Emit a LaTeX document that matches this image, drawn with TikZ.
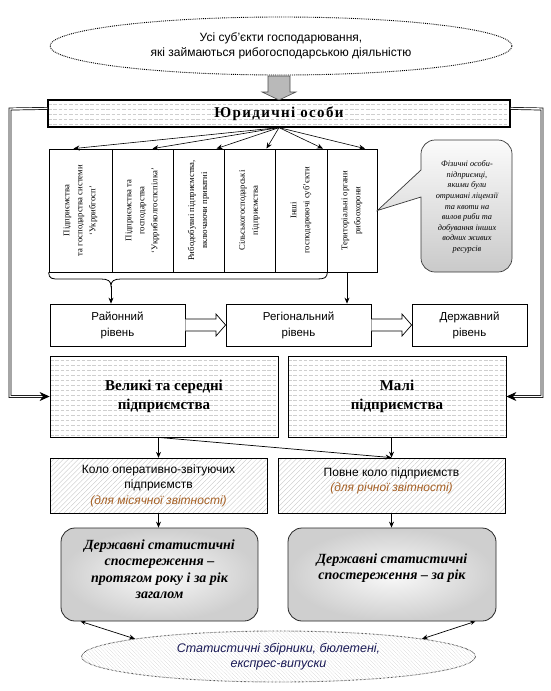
\documentclass[tikz,border=0pt]{standalone}
\usepackage{fontspec}
\setmainfont{Liberation Serif}
\setsansfont{Liberation Sans}
\newfontfamily\spacedserif[LetterSpace=9]{Liberation Serif}
\usetikzlibrary{arrows.meta,patterns.meta,shapes.geometric}
\definecolor{brn}{RGB}{165,95,35}
\definecolor{navy}{RGB}{25,25,85}
\tikzset{
  ell/.style={ellipse, draw=black, densely dotted, line width=0.9pt, align=center, inner sep=0pt},
  hlines/.style={path picture={\foreach \k in {1,...,40}{\draw[gray!38,line width=0.4pt,dash pattern=on 3.5pt off 1.8pt] ([yshift=-\k*5pt+1pt]path picture bounding box.north west) -- ([yshift=-\k*5pt+1pt]path picture bounding box.north east);}}},
  col/.style={draw, line width=0.8pt, minimum height=123pt, inner sep=0pt},
  coltext/.style={rotate=90, align=center, font=\fontsize{8.7}{13}\selectfont, inner sep=0pt},
  lvl/.style={draw, line width=0.8pt, minimum height=42pt, align=center, font=\sffamily\fontsize{11.5}{16}\selectfont},
  bigbox/.style={draw, line width=0.8pt, hlines, minimum height=81pt, align=center, font=\bfseries\fontsize{15}{19}\selectfont},
  hatchbox/.style={draw, line width=0.8pt, pattern={Lines[angle=45,distance=3.5pt,line width=0.35pt]}, pattern color=gray!45, minimum height=55pt, align=center, font=\sffamily\fontsize{12}{15.5}\selectfont},
  marble/.style={draw=gray!30!black, line width=0.8pt, rounded corners=14pt, inner color=gray!4, outer color=gray!38, minimum height=93pt},
  mtext/.style={align=center, font=\bfseries\itshape\fontsize{14}{16.5}\selectfont},
  fan/.style={-{Stealth[length=6pt,width=5pt]}, line width=0.6pt},
  arr/.style={-{Stealth[length=6pt,width=5pt]}, line width=0.7pt},
  dbl/.style={double, double distance=1.4pt, line width=0.7pt, -{Stealth[length=10pt,width=9pt]}},
  hollow/.style={draw, fill=white, line width=0.7pt},
  tw/.style={{Stealth[length=5pt,width=4pt]}-{Stealth[length=6pt,width=5pt]}, line width=0.7pt}
}
\begin{document}
\begin{tikzpicture}[x=1pt,y=-1pt]
\useasboundingbox (0,0) rectangle (551,691);
\fill[white] (0,0) rectangle (551,691);

% top ellipse
\node[ell, minimum width=462pt, minimum height=58pt, font=\sffamily\fontsize{12}{15.5}\selectfont] (top) at (281,46)
  {Усі суб'єкти господарювання,\\які займаються рибогосподарською діяльністю};

% Legal entities box
\node[draw, line width=1.2pt, hlines, minimum width=462pt, minimum height=27pt, font=\spacedserif\bfseries\fontsize{15}{17}\selectfont] (yur) at (279,113.5)
  {Юридичні особи};

% gray block arrow
\path[fill=gray!55, draw=gray!60!black, line width=0.6pt]
  (268,76) -- (290,76) -- (290,92) -- (296,92) -- (279,100) -- (262,92) -- (268,92) -- cycle;

% columns
\node[col, minimum width=63pt] (c1) at (80.5,210.5) {};
\node[col, minimum width=61pt] (c2) at (142.5,210.5) {};
\node[col, minimum width=51pt] (c3) at (198.5,210.5) {};
\node[col, minimum width=51pt] (c4) at (249.5,210.5) {};
\node[col, minimum width=52pt] (c5) at (301,210.5) {};
\node[col, minimum width=50pt] (c6) at (352,210.5) {};
\node[coltext] (t1) at (c1.center) {Підприємства\\та господарства системи\\‘Укррибгосп’};
\node[coltext] (t2) at (c2.center) {Підприємства та\\господарства\\‘Укррибколгоспспілка’};
\node[coltext] (t3) at (c3.center) {Рибодобувні підприємства,\\включаючи приватні};
\node[coltext] (t4) at (c4.center) {Сільськогосподарські\\підприємства};
\node[coltext] (t5) at (c5.center) {Інші\\господарюючі суб'єкти};
\node[coltext] (t6) at (c6.center) {Територіальні органи\\рибоохорони};

% fan arrows
\draw[fan] (yur.south) -- ([xshift=-7pt]c1.north);
\draw[fan] (yur.south) -- ([xshift=10pt]c2.north);
\draw[fan] (yur.south) -- ([xshift=18pt]c3.north);
\draw[fan] (yur.south) -- ([xshift=17pt]c4.north);
\draw[fan] (yur.south) -- ([xshift=22pt]c5.north);
\draw[fan] (yur.south) -- ([xshift=13pt]c6.north);

% brace under columns 1-5
\coordinate (btip) at (111,286);
\draw[line width=0.8pt] (c1.south west) .. controls (49,279) and (52,279) .. (60,279) -- (101,279)
  .. controls (108,279) and (111,281) .. (btip)
  .. controls (111,281) and (114,279) .. (121,279) -- (317,279)
  .. controls (324,279) and (327,278) .. (c5.south east);

% speech bubble
\path[draw=gray!45!black, line width=0.7pt, top color=gray!3, bottom color=gray!42]
  (c6.east) -- (421,197) [rounded corners=14pt] -- (421,272) -- (512,272) -- (512,140) -- (421,140) [sharp corners] -- (421,170) -- cycle;
\node[align=center, font=\itshape\fontsize{8.3}{10.6}\selectfont] (bub) at (467,207)
  {Фізичні особи-\\підприємці,\\якими були\\отримані ліцензії\\та квоти на\\вилов риби та\\добування інших\\водних живих\\ресурсів};

% levels
\node[lvl, minimum width=135pt] (rai) at (117.5,325) {Районний\\рівень};
\node[lvl, minimum width=145pt] (reg) at (298.5,325) {Регіональний\\рівень};
\node[lvl, minimum width=115pt] (der) at (469.5,325) {Державний\\рівень};
\draw[arr] (btip) -- (btip |- rai.north);
\draw[arr] ([xshift=-5pt]c6.south) -- ([xshift=-5pt]c6.south |- reg.north);
\path[hollow] (rai.east |- 0,319) -- (216,319) -- (216,314) -- (reg.west) -- (216,336) -- (216,331) -- (rai.east |- 0,331);
\path[hollow] (reg.east |- 0,319) -- (402,319) -- (402,314) -- (der.west) -- (402,336) -- (402,331) -- (reg.east |- 0,331);

% big boxes
\node[bigbox, minimum width=228pt] (vel) at (164,396.5) {Великі та середні\\підприємства};
\node[bigbox, minimum width=218pt] (mal) at (397,396.5) {Малі\\підприємства};

% double-line arrows
\draw[dbl] ([yshift=-9pt]yur.north west) -- (10,109) |- (vel.west);
\draw[dbl] ([yshift=-9pt]yur.north east) -- (542,109) |- (mal.east);

% reporting circles
\node[hatchbox, minimum width=217pt] (kolo) at (158.5,485.5) {Коло оперативно-звітуючих\\підприємств\\\textcolor{brn}{\itshape (для місячної звітності)}};
\node[hatchbox, minimum width=227pt, text depth=12pt] (pov) at (391.5,485.5) {Повне коло підприємств\\\textcolor{brn}{\itshape (для річної звітності)}};
\draw[arr] (vel.south -| kolo.north) -- (kolo.north);
\draw[arr] (mal.south -| pov.north) -- (pov.north);
\draw[arr] (vel.south -| kolo.north) -- (pov.north);

% marble boxes
\node[marble, minimum width=197pt] (m1) at (159.5,574.5) {};
\node[marble, minimum width=208pt] (m2) at (392,574.5) {};
\node[mtext] (m1t) at (159.5,569) {Державні статистичні\\спостереження –\\протягом року і за рік\\загалом};
\node[mtext] (m2t) at (392,568) {Державні статистичні\\спостереження – за рік};
\draw[arr] (kolo.south) -- (kolo.south |- m1.north);
\draw[arr] (pov.south) -- (pov.south |- m2.north);

% bottom ellipse
\node[ell, minimum width=394pt, minimum height=51pt, pattern={Lines[angle=-45,distance=2.6pt,line width=0.35pt]}, pattern color=gray!65, font=\sffamily\itshape\fontsize{12.5}{15}\selectfont, text=navy] (bot) at (278.5,656.5)
  {Статистичні збірники, бюлетені,\\експрес-випуски};
\draw[tw] ([xshift=20pt]m1.south west) -- (bot.173);
\draw[tw] ([xshift=-21pt]m2.south east) -- (bot.7);
\end{tikzpicture}
\end{document}
